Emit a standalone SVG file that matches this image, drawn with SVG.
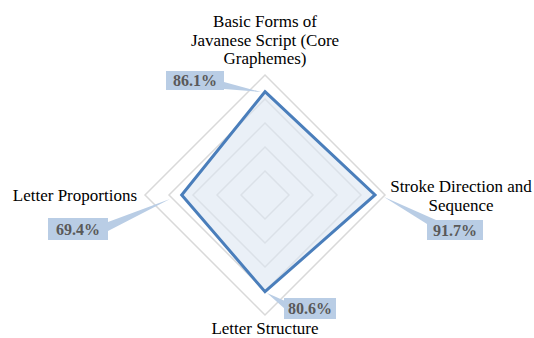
<svg xmlns="http://www.w3.org/2000/svg" width="534" height="338" viewBox="0 0 534 338">
<style>
.grid{fill:none;stroke:#d9d9d9;stroke-width:1.5}
.cat{font-family:"Liberation Serif","Times New Roman",serif;font-size:17px;fill:#000}
.lblbox{fill:#b9cde5}
.lbl{font-family:"Liberation Serif","Times New Roman",serif;font-size:16px;font-weight:bold;fill:#595959;text-anchor:middle}
</style>
<rect width="534" height="338" fill="#fff"/>
<g id="grid">
<polygon class="grid" points="265,171 289,195 265,219 241,195"/>
<polygon class="grid" points="265,147 313,195 265,243 217,195"/>
<polygon class="grid" points="265,123 337,195 265,267 193,195"/>
<polygon class="grid" points="265,99 361,195 265,291 169,195"/>
<polygon class="grid" points="265,75 385,195 265,315 145,195"/>
</g>
<g id="series">
<polygon points="265,91.7 375,195 265,291.7 181.7,195" fill="#dce6f2" fill-opacity="0.6" stroke="#4a7ebb" stroke-width="3" stroke-linejoin="miter"/>
</g>
<g id="connectors">
<polygon class="lblbox" points="224,82 224,89 261,92"/>
<polygon class="lblbox" points="384,197 436,220 427,224"/>
<polygon class="lblbox" points="267,293 285,301 285,309"/>
<polygon class="lblbox" points="108,222 108,231 170,199"/>
</g>
<g id="cat-top">
<text class="cat" text-anchor="middle" x="265" y="27">Basic Forms of</text>
<text class="cat" text-anchor="middle" x="265" y="45.5">Javanese Script (Core</text>
<text class="cat" text-anchor="middle" x="265" y="64">Graphemes)</text>
</g>
<g id="cat-right">
<text class="cat" text-anchor="middle" x="461" y="192">Stroke Direction and</text>
<text class="cat" text-anchor="middle" x="461" y="210.5">Sequence</text>
</g>
<g id="cat-bottom">
<text class="cat" text-anchor="middle" x="265" y="334">Letter Structure</text>
</g>
<g id="cat-left">
<text class="cat" text-anchor="end" x="137" y="201">Letter Proportions</text>
</g>
<g id="label-top">
<rect class="lblbox" x="166" y="71" width="58" height="19"/>
<text class="lbl" x="195" y="86">86.1%</text>
</g>
<g id="label-right">
<rect class="lblbox" x="427" y="220" width="56" height="20"/>
<text class="lbl" x="455" y="235.5">91.7%</text>
</g>
<g id="label-bottom">
<rect class="lblbox" x="284" y="298" width="52" height="21"/>
<text class="lbl" x="310" y="314">80.6%</text>
</g>
<g id="label-left">
<rect class="lblbox" x="48" y="218" width="60" height="22"/>
<text class="lbl" x="78" y="234.5">69.4%</text>
</g>
</svg>
